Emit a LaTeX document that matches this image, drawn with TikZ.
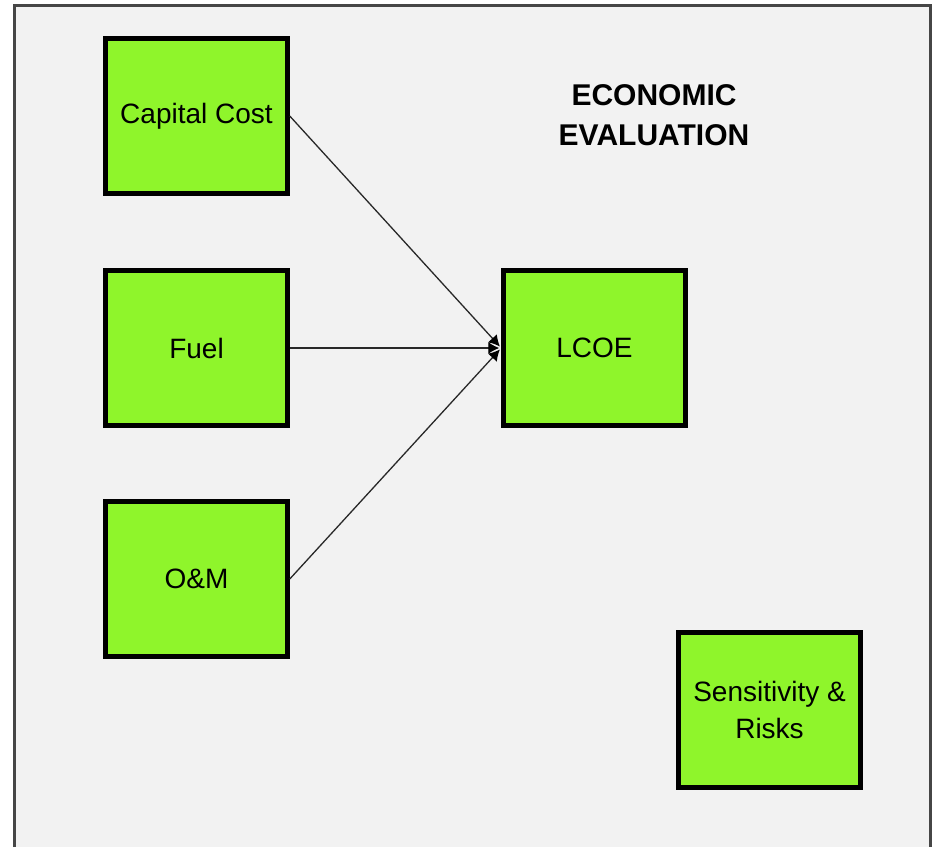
\documentclass[tikz,border=0pt]{standalone}
\usepackage{fontspec}
\setmainfont{Liberation Sans}
\usetikzlibrary{arrows.meta}
\definecolor{boxgreen}{RGB}{143,245,43}
\definecolor{panelgray}{RGB}{242,242,242}
\definecolor{framegray}{RGB}{70,70,70}
\definecolor{linkgray}{RGB}{40,40,40}
\tikzset{
  block/.style={draw=black, line width=4.5pt, fill=boxgreen, minimum width=182pt,
    minimum height=155pt, inner sep=0pt, align=center, font=\fontsize{28}{37}\selectfont},
  link/.style={draw=linkgray, line width=1.3pt, shorten >=2pt,
    -{Latex[length=11pt,width=12pt,black]}},
  heading/.style={font=\bfseries\fontsize{30}{40}\selectfont, align=center}
}
\begin{document}
\begin{tikzpicture}[x=1pt,y=-1pt]
\useasboundingbox (0,0) rectangle (932,847);
\fill[white] (0,0) rectangle (932,847);
% panel
\fill[panelgray] (14,5) rectangle (930,847);
\draw[framegray, line width=3pt] (14,847) -- (14,5) -- (930,5) -- (930,847);
% blocks
\node[block] (cap) at (196.5,116) {Capital Cost};
\node[block] (fuel) at (196.5,348) {Fuel};
\node[block] (om) at (196.5,579) {O\&M};
\node[block] (lcoe) at (594.5,348) {LCOE};
\node[block] (sens) at (769.5,710) {Sensitivity \&\\Risks};
\node[heading] (title) at (654,115) {ECONOMIC\\EVALUATION};
% connectors
\draw[link] (cap.east) -- (lcoe.west);
\draw[link] (fuel.east) -- (lcoe.west);
\draw[link] (om.east) -- (lcoe.west);
\end{tikzpicture}
\end{document}
